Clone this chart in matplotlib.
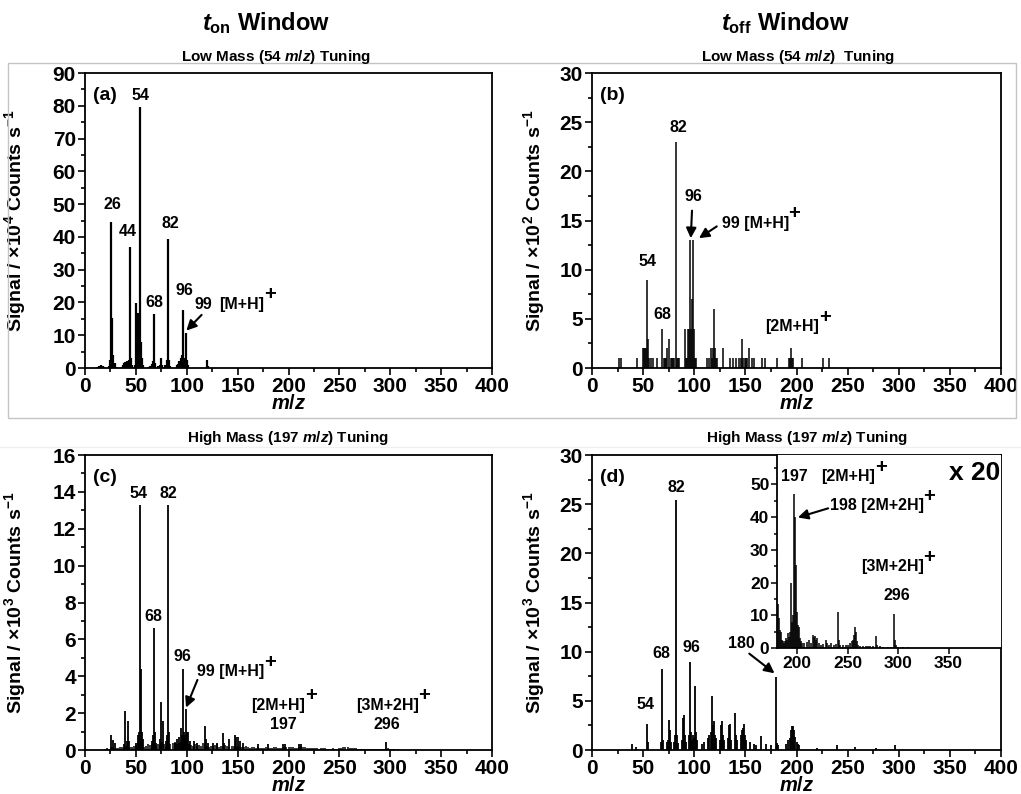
import numpy as np
import matplotlib
matplotlib.use("Agg")
import matplotlib.pyplot as plt
from matplotlib.ticker import MultipleLocator
from matplotlib.patches import Rectangle
from matplotlib.lines import Line2D

plt.rcParams.update({
    "font.family": ["Liberation Sans", "DejaVu Sans"],
    "font.weight": "bold",
    "axes.labelweight": "bold",
    "mathtext.fontset": "custom",
    "mathtext.rm": "Liberation Sans:bold",
    "mathtext.it": "Liberation Sans:italic:bold",
    "mathtext.bf": "Liberation Sans:bold",
    "axes.linewidth": 1.3,
})

# ---------------- spectra ----------------
# (a) t_on window, low-mass tuning, signal in 1e4 counts/s
mz_a = [12, 14, 15, 16, 17, 18, 19, 24, 25, 26, 27, 28, 29, 30, 36, 37, 38, 39, 40, 41,
        42, 43, 44, 45, 46, 49, 50, 51, 52, 53, 54, 55, 56, 57, 62, 64, 66, 67, 68, 69,
        72, 74, 75, 76, 79, 80, 81, 82, 83, 84, 90, 91, 92, 93, 94, 95, 96, 97, 98, 99,
        100, 101, 120, 121]
sig_a = [0.3, 0.5, 0.4, 0.8, 0.6, 0.5, 0.3, 0.6, 2.5, 44.5, 15.3, 4.0, 1.5, 0.4, 0.4, 1.0, 1.5, 1.8, 1.2, 2.0,
         1.6, 2.5, 37.0, 3.0, 0.8, 1.0, 19.8, 3.0, 16.8, 8.0, 79.5, 8.0, 3.0, 0.8, 0.4, 0.6, 1.2, 2.0, 16.4, 1.5,
         0.6, 1.0, 3.0, 1.0, 1.0, 0.8, 2.5, 39.4, 2.5, 0.5, 0.8, 1.2, 2.0, 2.0, 3.0, 4.0, 17.7, 3.0, 2.0, 10.6,
         2.5, 0.8, 2.4, 0.5]

# (b) t_off window, low-mass tuning, signal in 1e2 counts/s
mz_b = [26, 28, 44, 50, 51, 52, 53, 54, 55, 56, 58, 60, 64, 68, 70, 71, 72, 73, 75, 77,
        78, 79, 80, 82, 83, 84, 85, 91, 92, 93, 94, 95, 96, 97, 98, 99, 100, 101, 102, 112,
        114, 116, 117, 118, 119, 120, 121, 122, 128, 135, 138, 141, 144, 146, 147, 148, 150, 151, 152, 154,
        156, 158, 166, 169, 181, 193, 194, 195, 196, 197, 205, 226, 232]
sig_b = [1, 1, 1, 2, 2, 2, 2, 9, 3, 1, 1, 1, 1, 4, 1, 1, 1, 2, 3, 1,
         1, 1, 1, 23, 1, 1, 1, 4, 1, 1, 4, 4, 13, 4, 7, 13, 4, 1, 1, 1,
         1, 2, 1, 2, 6, 2, 1, 1, 2, 1, 1, 1, 1, 1, 3, 1, 1, 1, 1, 2,
         1, 1, 1, 1, 1, 1, 1, 2, 1, 1, 1, 1, 1]

# (c) t_on window, high-mass tuning, signal in 1e3 counts/s
mz_c_base = np.arange(20, 332, 2)
sig_c_base = [0.06, 0.09, 0.07, 0.18, 0.15, 0.12, 0.11, 0.15, 0.18, 0.13, 0.21, 0.17, 0.18, 0.15, 0.24,
              0.27, 0.36, 0.30, 0.21, 0.18, 0.24, 0.33, 0.27, 0.30, 0.36, 0.24, 0.30, 0.27, 0.42, 0.33,
              0.24, 0.27, 0.30, 0.36, 0.45, 0.33, 0.39, 0.42, 0.48, 0.36,
              0.33, 0.30, 0.27, 0.24, 0.30, 0.21, 0.27, 0.24, 0.36, 0.30, 0.21, 0.18, 0.24, 0.21, 0.27,
              0.30, 0.18, 0.21, 0.24, 0.27, 0.21, 0.18, 0.24, 0.21, 0.18,
              0.21, 0.18, 0.15, 0.18, 0.21, 0.15, 0.12, 0.15, 0.18, 0.12, 0.15, 0.12, 0.11, 0.13, 0.15,
              0.12, 0.11, 0.12, 0.15, 0.18, 0.12, 0.11, 0.13, 0.15, 0.18,
              0.17, 0.15, 0.18, 0.13, 0.11, 0.18, 0.21, 0.18, 0.15, 0.12, 0.11, 0.09, 0.12, 0.11, 0.09,
              0.07, 0.09, 0.11, 0.09, 0.07, 0.06, 0.07, 0.09, 0.07, 0.06,
              0.09, 0.12, 0.15, 0.18, 0.17, 0.13, 0.11, 0.12, 0.09, 0.07, 0.06, 0.05, 0.06, 0.07, 0.06,
              0.05, 0.06, 0.05, 0.04, 0.05, 0.06, 0.05, 0.06, 0.07, 0.12,
              0.06, 0.04, 0.03, 0.02, 0.03, 0.02, 0.02, 0.02, 0.02, 0.01, 0.02, 0.01, 0.01, 0.01, 0.01, 0.01]
mz_c = [26, 28, 29, 38, 39, 41, 42, 43, 50, 52, 53, 54, 55, 56, 57, 66, 67, 68, 69, 70,
        74, 75, 77, 80, 81, 82, 83, 88, 90, 92, 94, 95, 96, 97, 98, 99, 100, 101, 103, 107,
        110, 118, 119, 121, 126, 130, 136, 137, 142, 147, 148, 150, 152, 155, 170, 180, 195, 197, 210, 212,
        296]
sig_c = [0.8, 0.55, 0.4, 0.3, 2.1, 0.5, 1.6, 0.5, 0.4, 0.8, 1.0, 13.3, 4.4, 1.0, 0.6, 0.5, 0.8, 6.6, 1.0, 0.4,
         0.6, 2.6, 1.6, 0.5, 0.8, 13.3, 1.0, 0.4, 0.6, 0.7, 1.2, 0.8, 4.4, 1.0, 0.8, 2.2, 1.0, 1.0, 0.5, 0.5,
         0.4, 1.3, 0.6, 0.4, 0.4, 0.4, 0.9, 0.4, 0.6, 0.8, 0.7, 0.7, 0.5, 0.4, 0.3, 0.3, 0.35, 0.3, 0.35, 0.3,
         0.45]

# (d) t_off window, high-mass tuning, signal in 1e3 counts/s
mz_d = [39, 43, 54, 55, 67, 68, 69, 73, 74, 75, 76, 77, 80, 81, 82, 83, 84, 88, 89, 90,
        91, 92, 95, 96, 97, 98, 99, 100, 101, 102, 103, 108, 110, 113, 114, 116, 117, 118, 119, 120,
        121, 125, 126, 127, 128, 129, 133, 134, 135, 136, 140, 141, 142, 146, 147, 148, 149, 150, 151, 155,
        158, 160, 165, 170, 175, 180, 181, 182, 190, 192, 194, 195, 196, 197, 198, 199, 200, 201, 202, 220,
        240, 257, 278, 296]
sig_d = [0.6, 0.3, 2.6, 0.8, 0.8, 8.2, 1.0, 0.8, 1.0, 3.1, 2.0, 0.8, 0.8, 1.5, 25.4, 1.5, 0.7, 1.0, 3.3, 3.6,
         1.5, 0.8, 1.5, 8.9, 1.8, 1.0, 1.5, 1.2, 6.5, 1.8, 1.0, 0.6, 0.8, 1.2, 1.5, 1.8, 5.5, 2.5, 3.0, 1.5,
         1.2, 1.0, 2.5, 2.9, 1.5, 1.0, 1.2, 2.5, 2.6, 1.0, 3.8, 1.5, 1.0, 1.5, 2.0, 2.2, 2.6, 1.5, 1.0, 0.8,
         0.6, 0.5, 1.4, 0.6, 0.5, 7.4, 0.7, 0.5, 0.6, 1.0, 1.2, 2.0, 2.4, 2.4, 2.0, 1.3, 0.8, 0.6, 0.5, 0.2,
         0.55, 0.33, 0.18, 0.52]

# (d) inset, magnified x20
mz_in = [181, 182, 183, 184, 185, 186, 187, 188, 189, 190, 191, 192, 193, 194, 195, 196, 197, 198, 199, 200,
         201, 202, 203, 204, 205, 207, 210, 212, 214, 216, 217, 218, 219, 220, 222, 224, 226, 229, 230, 232,
         234, 236, 238, 240, 241, 242, 245, 248, 250, 252, 254, 255, 256, 257, 258, 259, 260, 262, 265, 268,
         270, 272, 275, 278, 279, 282, 285, 290, 293, 296, 297, 298, 300, 305, 310, 315]
sig_in = [13.6, 9.2, 5.5, 5.0, 2.5, 2.0, 1.5, 2.0, 3.0, 2.5, 4.5, 3.5, 5.0, 19.8, 8.0, 10.0, 47.2, 40.1, 25.3, 11.0,
          7.0, 6.5, 3.0, 2.0, 1.5, 1.5, 1.8, 2.5, 1.5, 4.0, 3.5, 3.8, 2.5, 3.0, 1.5, 1.0, 1.2, 2.5, 1.5, 1.0,
          1.5, 1.0, 1.2, 11.0, 2.5, 1.0, 0.8, 1.0, 1.0, 1.5, 2.0, 2.5, 4.0, 6.4, 5.0, 2.0, 1.0, 0.5, 0.5, 0.5,
          0.6, 0.5, 0.5, 3.6, 1.0, 0.5, 0.4, 0.3, 0.3, 10.4, 2.5, 1.0, 0.3, 0.2, 0.2, 0.1]

# ---------------- layout ----------------
W, H = 1021, 794
fig = plt.figure(figsize=(W / 100, H / 100), dpi=100)


def px_box(left, top, right, bottom):
    return [left / W, 1 - bottom / H, (right - left) / W, (bottom - top) / H]


TICK_FS = 15
LAB_FS = 11.5


def style_axes(ax, ymax, ymaj, ymin, power, ylab_x):
    ax.set_xlim(0, 400)
    ax.set_ylim(0, ymax)
    ax.xaxis.set_major_locator(MultipleLocator(50))
    ax.xaxis.set_minor_locator(MultipleLocator(25))
    ax.yaxis.set_major_locator(MultipleLocator(ymaj))
    ax.yaxis.set_minor_locator(MultipleLocator(ymin))
    ax.tick_params(which="both", direction="out", top=False, right=False,
                   width=1.2, labelsize=TICK_FS, pad=1.5)
    ax.tick_params(which="major", length=5)
    ax.tick_params(which="minor", length=3)
    for lab in ax.get_xticklabels() + ax.get_yticklabels():
        lab.set_fontweight("bold")
    ax.set_xlabel(r"$\mathit{m/z}$", fontsize=14.5)
    ax.xaxis.set_label_coords(0.5, -0.088)
    ax.set_ylabel(r"Signal / ×10$^{%d}$ Counts s$^{-1}$" % power, fontsize=14, fontweight="bold")
    ax.yaxis.set_label_coords(ylab_x, 0.5)


def sticks(ax, x, y, lw=1.2):
    ax.vlines(x, 0, y, colors="black", linewidth=lw)


def txt(ax, x, y, s, fs=LAB_FS, ha="center"):
    return ax.text(x, y, s, ha=ha, va="center", fontsize=fs, fontweight="bold")


def ion(ax, x, y, s, fs=LAB_FS, ha="center"):
    t = txt(ax, x, y, s, fs, ha)
    ax.annotate("+", xy=(0.99, 0.5), xycoords=t, ha="left", va="bottom",
                fontsize=fs + 3, fontweight="bold")
    return t


def arrow(ax, tail, head):
    ax.annotate("", xy=head, xytext=tail,
                arrowprops=dict(arrowstyle="-|>", color="black", lw=1.5,
                                mutation_scale=15, shrinkA=0, shrinkB=0))


# frame round the low-mass row
fig.add_artist(Rectangle((8 / W, 1 - 418 / H), 1008 / W, 355 / H, transform=fig.transFigure,
                         fill=False, edgecolor="#c4c4c4", linewidth=1.0))
fig.add_artist(Line2D([0, 1], [1 - 447 / H, 1 - 447 / H], transform=fig.transFigure,
                      color="#f0f0f0", linewidth=1.0))

# column and row titles
fig.text(266 / W, 1 - 23 / H, r"$\mathit{t}_{\mathrm{on}}$ Window", ha="center", va="center", fontsize=17)
fig.text(785 / W, 1 - 23 / H, r"$\mathit{t}_{\mathrm{off}}$ Window", ha="center", va="center", fontsize=17)
fig.text(276 / W, 1 - 57 / H, r"Low Mass (54 $\mathit{m/z}$) Tuning", ha="center", va="center", fontsize=11)
fig.text(798 / W, 1 - 57 / H, r"Low Mass (54 $\mathit{m/z}$)  Tuning", ha="center", va="center", fontsize=11)
fig.text(288 / W, 1 - 438 / H, r"High Mass (197 $\mathit{m/z}$) Tuning", ha="center", va="center", fontsize=11)
fig.text(807 / W, 1 - 438 / H, r"High Mass (197 $\mathit{m/z}$) Tuning", ha="center", va="center", fontsize=11)

# ---- (a)
ax_a = fig.add_axes(px_box(85, 73, 492, 368))
sticks(ax_a, mz_a, sig_a, lw=1.6)
style_axes(ax_a, 90, 10, 5, 4, -0.14)
ax_a.text(0.02, 0.925, "(a)", transform=ax_a.transAxes, fontsize=14, fontweight="bold", va="center")
txt(ax_a, 26.5, 50, "26")
txt(ax_a, 42.3, 41.5, "44")
txt(ax_a, 55, 83, "54")
txt(ax_a, 67.8, 20, "68")
txt(ax_a, 83.5, 44, "82")
txt(ax_a, 97.3, 23.5, "96")
txt(ax_a, 116, 19.5, "99")
ion(ax_a, 154, 19.5, "[M+H]")
arrow(ax_a, (114.6, 16.2), (99.6, 11.4))

# ---- (b)
ax_b = fig.add_axes(px_box(592, 73, 1001, 368))
sticks(ax_b, mz_b, sig_b, lw=1.1)
style_axes(ax_b, 30, 5, 2.5, 2, -0.11)
ax_b.text(0.02, 0.925, "(b)", transform=ax_b.transAxes, fontsize=14, fontweight="bold", va="center")
txt(ax_b, 54.5, 10.8, "54")
txt(ax_b, 68.5, 5.4, "68")
txt(ax_b, 84.5, 24.5, "82")
txt(ax_b, 98.8, 17.4, "96")
ion(ax_b, 126.8, 14.7, "99 [M+H]", ha="left")
arrow(ax_b, (97.8, 16.0), (96.6, 13.2))
arrow(ax_b, (122, 14.4), (104.6, 13.2))
ion(ax_b, 196, 4.2, "[2M+H]")

# ---- (c)
ax_c = fig.add_axes(px_box(85, 455, 492, 750))
sticks(ax_c, mz_c_base, sig_c_base, lw=1.1)
sticks(ax_c, mz_c, sig_c, lw=1.3)
style_axes(ax_c, 16, 2, 1, 3, -0.14)
ax_c.text(0.02, 0.925, "(c)", transform=ax_c.transAxes, fontsize=14, fontweight="bold", va="center")
txt(ax_c, 52.5, 13.9, "54")
txt(ax_c, 81.5, 13.9, "82")
txt(ax_c, 67, 7.23, "68")
txt(ax_c, 96, 5.06, "96")
ion(ax_c, 110.5, 4.25, "99 [M+H]", ha="left")
arrow(ax_c, (110.5, 3.8), (99.3, 2.3))
ion(ax_c, 190, 2.44, "[2M+H]")
txt(ax_c, 195.4, 1.36, "197")
ion(ax_c, 297, 2.44, "[3M+2H]")
txt(ax_c, 296.7, 1.36, "296")

# ---- (d)
ax_d = fig.add_axes(px_box(592, 455, 1001, 750))
sticks(ax_d, mz_d, sig_d, lw=1.3)
style_axes(ax_d, 30, 5, 2.5, 3, -0.11)
ax_d.text(0.02, 0.925, "(d)", transform=ax_d.transAxes, fontsize=14, fontweight="bold", va="center")
txt(ax_d, 82.5, 26.7, "82")
txt(ax_d, 67.5, 9.8, "68")
txt(ax_d, 96.8, 10.4, "96")
txt(ax_d, 52.8, 4.6, "54")
txt(ax_d, 145.7, 10.8, "180")
arrow(ax_d, (153.8, 9.8), (178.5, 7.8))

# ---- (d) inset, x20
ax_in = fig.add_axes(px_box(777, 455, 1001, 648))
ax_in.vlines(mz_in, 0, sig_in, colors="black", linewidth=1.1)
ax_in.set_xlim(180, 402)
ax_in.set_ylim(0, 59)
ax_in.yaxis.set_major_locator(MultipleLocator(10))
ax_in.yaxis.set_minor_locator(MultipleLocator(5))
ax_in.set_xticks([200, 250, 300, 350])
ax_in.tick_params(which="both", direction="out", top=False, right=False,
                  width=1.1, labelsize=12.5, pad=1.5)
ax_in.tick_params(which="major", length=4)
ax_in.tick_params(which="minor", length=2.5)
ax_in.spines["top"].set_visible(False)
ax_in.spines["right"].set_visible(False)
for lab in ax_in.get_xticklabels() + ax_in.get_yticklabels():
    lab.set_fontweight("bold")
txt(ax_in, 197.3, 52.4, "197")
ion(ax_in, 250.7, 52.4, "[2M+H]")
ion(ax_in, 232.3, 43.5, "198 [2M+2H]", ha="left")
arrow(ax_in, (230.7, 42.7), (200.7, 39.9))
ion(ax_in, 294.7, 24.8, "[3M+2H]")
txt(ax_in, 299, 15.9, "296")
txt(ax_in, 376, 53.4, "x 20", fs=19)

fig.savefig("out.png", dpi=100)
